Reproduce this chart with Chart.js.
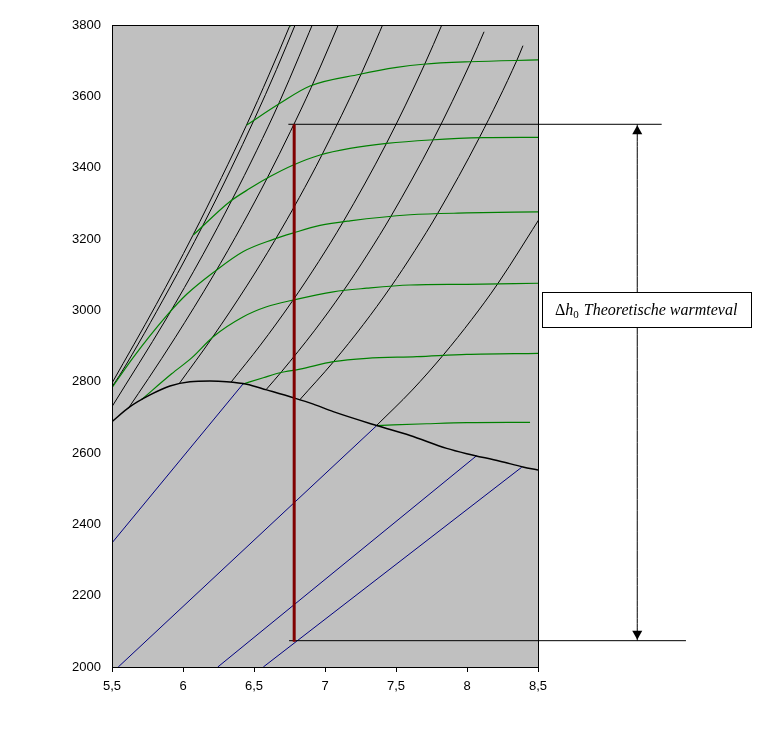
<!DOCTYPE html>
<html>
<head>
<meta charset="utf-8">
<script src="https://cdn.jsdelivr.net/npm/chart.js@4.4.0/dist/chart.umd.min.js"></script>
<style>
  body { margin: 0; background: #fff; }
  #wrap { width: 771px; height: 729px; }
</style>
</head>
<body>
<div id="wrap"><canvas id="mollier" width="771" height="729"></canvas></div>
<script>
// h-s diagram (Mollier), s in kJ/kgK op x, h in kJ/kg op y
const sTicks = [5.5, 6, 6.5, 7, 7.5, 8, 8.5];
const hTicks = [2000, 2200, 2400, 2600, 2800, 3000, 3200, 3400, 3600, 3800];

// verzadigingslijn
const verzadiging = [[5.5, 2688], [5.627, 2730], [5.768, 2763], [5.908, 2788], [6.049, 2800], [6.19, 2802],
  [6.308, 2800], [6.449, 2793], [6.589, 2777], [6.777, 2755], [6.918, 2737], [7.058, 2716], [7.364, 2677],
  [7.599, 2649], [7.857, 2613], [7.998, 2598], [8.232, 2577], [8.394, 2561], [8.5, 2552]];

// isothermen (groen)
const t100 = [[7.364, 2677], [7.481, 2679], [7.716, 2682], [7.998, 2685], [8.444, 2686]];
const t200 = [[6.4225, 2793.5], [6.5655, 2811], [6.683, 2825], [6.824, 2835], [7.058, 2856], [7.294, 2865.5],
  [7.646, 2870], [7.998, 2876.5], [8.5, 2879.5]];
const t300 = [[5.709, 2750], [5.92, 2822], [6.065, 2868], [6.213, 2926], [6.425, 2982], [6.589, 3010],
  [6.777, 3029], [7.058, 3052], [7.294, 3062], [7.599, 3071], [7.998, 3073], [8.5, 3076]];
const t400 = [[5.505, 2786], [5.65, 2868], [5.885, 2985], [6.026, 3045], [6.213, 3106], [6.425, 3165],
  [6.636, 3199], [6.777, 3217], [6.965, 3238], [7.176, 3251], [7.599, 3268], [7.998, 3273], [8.5, 3276]];
const t500 = [[6.0725, 3211], [6.331, 3305], [6.472, 3342], [6.613, 3375], [6.777, 3407.5], [6.965, 3435.5],
  [7.176, 3454], [7.435, 3468], [7.739, 3477.6], [8.115, 3484], [8.5, 3485]];
const t600 = [[6.4486, 3519.6], [6.683, 3580.5], [6.894, 3629], [7.246, 3662], [7.505, 3681], [7.692, 3690],
  [8.021, 3697], [8.5, 3702]];
const t700 = [[6.75, 3796], [6.799, 3809]];

// isobaren oververhit gebied (zwart)
const p220 = [[5.5, 2796], [5.811, 3016], [6.068, 3209], [6.271, 3372], [6.447, 3519], [6.605, 3660], [6.75, 3796], [6.8, 3845]];
const p200 = [[5.5, 2786], [5.554, 2818], [5.902, 3060], [6.14, 3238], [6.335, 3394], [6.505, 3538], [6.658, 3675], [6.799, 3809]];
const p150 = [[5.5, 2730], [5.881, 2975.5], [6.14, 3156], [6.344, 3309], [6.52, 3449], [6.677, 3582], [6.959, 3846]];
const p100 = [[5.614, 2724.7], [5.757, 2809], [5.944, 2923], [6.212, 3096.5], [6.419, 3241], [6.597, 3374],
  [6.756, 3501], [6.903, 3625], [7.169, 3870.5]];
const p50 = [[5.973, 2794.3], [6.208, 2924.5], [6.449, 3068.4], [6.646, 3195.7], [6.819, 3316.2], [6.976, 3433.8],
  [7.259, 3666.5], [7.513, 3900]];
const p20 = [[6.34, 2799.5], [6.545, 2902.5], [6.766, 3023.5], [6.956, 3137], [7.127, 3247.6], [7.432, 3467.6],
  [7.702, 3690], [7.948, 3917.5]];
const p10 = [[6.586, 2778], [6.694, 2828], [6.925, 2942.6], [7.123, 3051], [7.301, 3157.7], [7.465, 3264],
  [7.762, 3478.5], [8.029, 3698], [8.12, 3781]];
const p5 = [[6.821, 2748.7], [7.059, 2855.4], [7.271, 2960.7], [7.46, 3064], [7.633, 3167.7], [7.794, 3272],
  [8.087, 3484], [8.352, 3701.7], [8.394, 3742]];
const p1 = [[7.359, 2675.5], [7.614, 2776.4], [7.834, 2875.3], [8.033, 2974.3], [8.216, 3074.3], [8.544, 3278.2]];

// natte gebied (blauw)
const nat200 = [[5.5, 2348], [6.4225, 2793.5]];
const nat100 = [[5.544, 2000], [7.362, 2676]];
const nat50 = [[6.245, 2000], [8.068, 2592.5]];
const nat33 = [[6.5655, 2000], [8.385, 2560]];

// expansie en annotatie
const expansie = [[6.783, 3522], [6.783, 2071]];
const lijnBoven = [[6.742, 3521.6], [9.371, 3521.6]];
const lijnOnder = [[6.747, 2073.8], [9.542, 2073.8]];
const pijl = [[9.199, 3521.6], [9.199, 2073.8]];
const labelPos = [9.262, 3001.5];

const pts = arr => arr.map(([s, h]) => ({ x: s, y: h }));

function lijn(data, color, width, extra) {
  return Object.assign({
    data: pts(data),
    borderColor: color,
    borderWidth: width,
    showLine: true,
    pointRadius: 0,
    fill: false,
    cubicInterpolationMode: 'monotone'
  }, extra || {});
}

const groen = '#008000';
const blauw = '#000080';

const datasets = [
  lijn(expansie, '#800000', 3),
  lijn(lijnBoven, '#000', 1, { clip: false }),
  lijn(lijnOnder, '#000', 1, { clip: false }),
  lijn(pijl, '#000', 1, { clip: false }),
  lijn(verzadiging, '#000', 1.5),
  ...[t100, t200, t300, t400, t500, t600, t700].map(d => lijn(d, groen, 1.2)),
  ...[p220, p200, p150, p100, p50, p20, p10, p5, p1].map(d => lijn(d, '#000', 1)),
  ...[nat200, nat100, nat50, nat33].map(d => lijn(d, blauw, 1))
];

const kader = {
  id: 'kader',
  beforeDraw(chart) {
    const { ctx, chartArea: a } = chart;
    ctx.save();
    ctx.fillStyle = '#c0c0c0';
    ctx.fillRect(a.left, a.top, a.right - a.left, a.bottom - a.top);
    ctx.restore();
  },
  afterDatasetsDraw(chart) {
    const { ctx, chartArea: a, scales } = chart;
    const x = scales.x, y = scales.y;
    ctx.save();
    ctx.strokeStyle = '#000';
    ctx.lineWidth = 1;
    ctx.strokeRect(a.left + 0.5, a.top + 0.5, a.right - a.left, a.bottom - a.top);

    // pijlpunten
    const px = x.getPixelForValue(pijl[0][0]);
    const yt = y.getPixelForValue(pijl[0][1]);
    const yb = y.getPixelForValue(pijl[1][1]);
    ctx.fillStyle = '#000';
    ctx.beginPath();
    ctx.moveTo(px, yt + 1); ctx.lineTo(px - 5, yt + 10); ctx.lineTo(px + 5, yt + 10);
    ctx.closePath(); ctx.fill();
    ctx.beginPath();
    ctx.moveTo(px, yb - 1); ctx.lineTo(px - 5, yb - 10); ctx.lineTo(px + 5, yb - 10);
    ctx.closePath(); ctx.fill();

    // tekstkader
    const cx = x.getPixelForValue(labelPos[0]);
    const cy = y.getPixelForValue(labelPos[1]);
    const bw = 209, bh = 35;
    const bx = Math.round(cx - bw / 2) + 0.5, by = Math.round(cy - bh / 2) + 0.5;
    ctx.fillStyle = '#fff';
    ctx.fillRect(bx, by, bw, bh);
    ctx.strokeRect(bx, by, bw, bh);

    const fDelta = '16px "Liberation Serif"';
    const fIt = 'italic 16px "Liberation Serif"';
    const fSub = '11px "Liberation Serif"';
    ctx.font = fDelta; const w1 = ctx.measureText('\u0394').width;
    ctx.font = fIt; const w2 = ctx.measureText('h').width;
    ctx.font = fSub; const w3 = ctx.measureText('0').width;
    ctx.font = fIt; const w4 = ctx.measureText(' Theoretische warmteval').width;
    let tx = cx - (w1 + w2 + w3 + 1 + w4) / 2;
    const base = cy + 5;
    ctx.fillStyle = '#000';
    ctx.textBaseline = 'alphabetic';
    ctx.textAlign = 'left';
    ctx.font = fDelta; ctx.fillText('\u0394', tx, base); tx += w1;
    ctx.font = fIt; ctx.fillText('h', tx, base); tx += w2;
    ctx.font = fSub; ctx.fillText('0', tx, base + 3); tx += w3 + 1;
    ctx.font = fIt; ctx.fillText(' Theoretische warmteval', tx, base);
    ctx.restore();
  }
};

new Chart(document.getElementById('mollier'), {
  type: 'scatter',
  data: { datasets },
  options: {
    responsive: false,
    animation: false,
    devicePixelRatio: 1,
    layout: { padding: { top: 25, right: 233, left: 0, bottom: 0 } },
    plugins: { legend: { display: false }, tooltip: { enabled: false } },
    scales: {
      x: {
        type: 'linear',
        min: 5.5,
        max: 8.5,
        afterBuildTicks: s => { s.ticks = sTicks.map(v => ({ value: v })); },
        afterFit: s => { s.height = 62; },
        grid: { drawOnChartArea: false, drawTicks: true, tickLength: 5, color: '#000' },
        border: { color: '#000' },
        ticks: {
          color: '#000',
          padding: 7,
          maxRotation: 0,
          font: { family: '"Liberation Sans"', size: 13 },
          callback: v => String(v).replace('.', ',')
        }
      },
      y: {
        type: 'linear',
        min: 2000,
        max: 3800,
        afterBuildTicks: s => { s.ticks = hTicks.map(v => ({ value: v })); },
        afterFit: s => { s.width = 112; },
        grid: { display: false, drawTicks: false },
        border: { color: '#000' },
        ticks: {
          color: '#000',
          padding: 11,
          font: { family: '"Liberation Sans"', size: 13 },
          callback: v => String(v)
        }
      }
    }
  },
  plugins: [kader]
});
</script>
</body>
</html>
